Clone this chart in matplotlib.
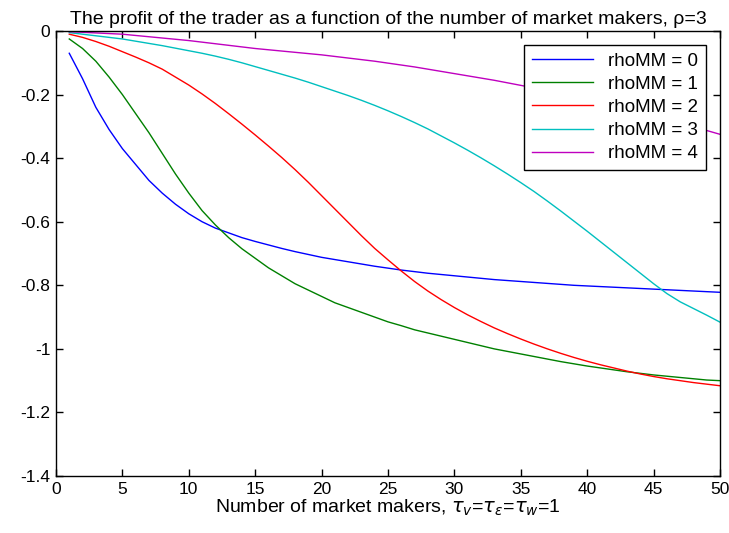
import numpy as np
import matplotlib
matplotlib.use("Agg")
import matplotlib.pyplot as plt
from matplotlib.ticker import FuncFormatter

plt.rcParams["font.family"] = ["Liberation Sans", "DejaVu Sans"]
plt.rcParams["font.size"] = 12.5
plt.rcParams["axes.unicode_minus"] = False
plt.rcParams["mathtext.fontset"] = "dejavusans"

# number of market makers
n_mm = list(range(1, 51))

# trader profit, one list per rhoMM
rho0 = [-0.07, -0.15, -0.24, -0.31, -0.37, -0.42, -0.47, -0.51, -0.545, -0.575,
        -0.60, -0.62, -0.635, -0.65, -0.662, -0.673, -0.684, -0.694, -0.703, -0.712,
        -0.719, -0.726, -0.733, -0.74, -0.746, -0.752, -0.757, -0.762, -0.766, -0.77,
        -0.774, -0.778, -0.782, -0.785, -0.788, -0.791, -0.794, -0.797, -0.80, -0.802,
        -0.804, -0.806, -0.808, -0.81, -0.812, -0.814, -0.816, -0.818, -0.82, -0.822]
rho1 = [-0.025, -0.055, -0.095, -0.145, -0.20, -0.26, -0.32, -0.385, -0.45, -0.51,
        -0.565, -0.61, -0.65, -0.685, -0.715, -0.745, -0.77, -0.795, -0.815, -0.835,
        -0.855, -0.87, -0.885, -0.90, -0.915, -0.927, -0.94, -0.95, -0.96, -0.97,
        -0.98, -0.99, -1.0, -1.008, -1.016, -1.024, -1.032, -1.04, -1.047, -1.054,
        -1.06, -1.066, -1.072, -1.077, -1.082, -1.086, -1.09, -1.094, -1.098, -1.10]
rho2 = [-0.01, -0.02, -0.033, -0.048, -0.065, -0.082, -0.10, -0.12, -0.145, -0.17,
        -0.198, -0.228, -0.26, -0.293, -0.327, -0.362, -0.398, -0.436, -0.476, -0.518,
        -0.56, -0.602, -0.644, -0.684, -0.72, -0.755, -0.788, -0.818, -0.845, -0.87,
        -0.893, -0.914, -0.934, -0.952, -0.969, -0.985, -1.0, -1.014, -1.027, -1.039,
        -1.05, -1.06, -1.07, -1.079, -1.087, -1.094, -1.1, -1.106, -1.111, -1.116]
rho3 = [-0.005, -0.01, -0.015, -0.02, -0.025, -0.032, -0.039, -0.046, -0.054, -0.062,
        -0.07, -0.079, -0.089, -0.1, -0.112, -0.124, -0.136, -0.148, -0.161, -0.175,
        -0.189, -0.203, -0.218, -0.234, -0.251, -0.269, -0.288, -0.308, -0.33, -0.352,
        -0.375, -0.399, -0.424, -0.45, -0.477, -0.505, -0.535, -0.566, -0.598, -0.63,
        -0.663, -0.696, -0.729, -0.762, -0.795, -0.826, -0.852, -0.873, -0.894, -0.916]
rho4 = [-0.002, -0.004, -0.006, -0.008, -0.01, -0.014, -0.018, -0.022, -0.026, -0.03,
        -0.035, -0.04, -0.045, -0.05, -0.055, -0.059, -0.063, -0.067, -0.071, -0.075,
        -0.08, -0.085, -0.09, -0.095, -0.101, -0.107, -0.113, -0.12, -0.127, -0.134,
        -0.141, -0.148, -0.155, -0.163, -0.171, -0.179, -0.188, -0.197, -0.206, -0.215,
        -0.225, -0.235, -0.245, -0.256, -0.267, -0.278, -0.289, -0.301, -0.313, -0.325]

labels = ["rhoMM = 0", "rhoMM = 1", "rhoMM = 2", "rhoMM = 3", "rhoMM = 4"]
colors = ["#0000ff", "#008000", "#ff0000", "#00bfbf", "#bf00bf"]

fig = plt.figure(figsize=(7.29, 5.33), dpi=100)
ax = fig.add_axes([0.0768, 0.1069, 0.9109, 0.8349])

for y, lab, c in zip([rho0, rho1, rho2, rho3, rho4], labels, colors):
    ax.plot(n_mm, y, color=c, linewidth=1.0, label=lab)

ax.set_xlim(0, 50)
ax.set_ylim(-1.4, 0)
ax.set_xticks(np.arange(0, 51, 5))
ax.set_yticks(np.arange(-1.4, 0.01, 0.2))


def fmt(v, p):
    v = round(v, 1)
    if v == 0:
        return "0"
    return "%g" % v


ax.yaxis.set_major_formatter(FuncFormatter(fmt))
ax.tick_params(direction="in", top=True, right=True, length=5, width=1, pad=4)
for s in ax.spines.values():
    s.set_linewidth(1.0)

ax.set_title("The profit of the trader as a function of the number of market makers, \u03c1=3",
             fontsize=14, pad=5)
ax.set_xlabel(r"Number of market makers, $\tau_v$=$\tau_\varepsilon$=$\tau_w$=1",
              fontsize=14, labelpad=1)

leg = ax.legend(loc="upper right", fancybox=False, edgecolor="black",
                framealpha=1, handlelength=3.3, borderaxespad=0.75,
                labelspacing=0.32, borderpad=0.4, fontsize=13.5)
leg.get_frame().set_linewidth(1.0)

plt.savefig("out.png", dpi=100)
